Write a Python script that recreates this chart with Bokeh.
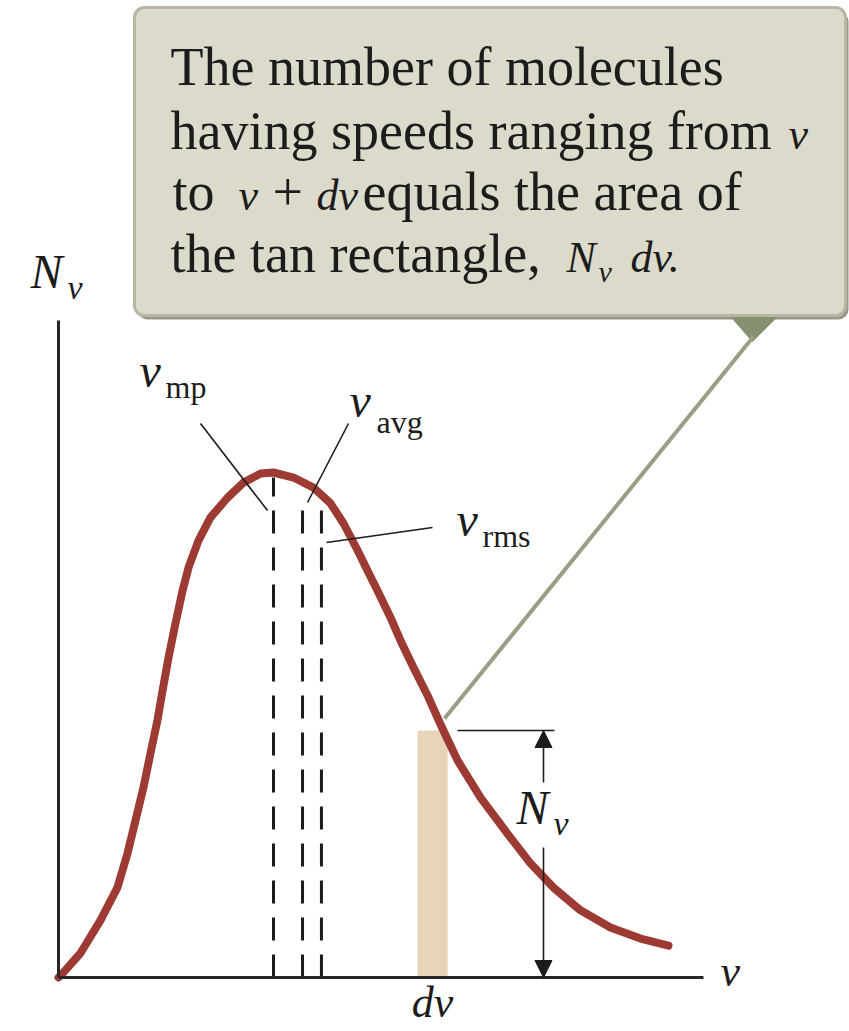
from bokeh.plotting import figure
from bokeh.models import Range1d, Arrow, NormalHead
from bokeh.core.properties import value
from bokeh.embed import file_html
from bokeh.resources import INLINE

# Maxwell speed distribution, speed in units of v_mp, N_v normalised to its peak
speeds = [0.000, 0.023, 0.102, 0.195, 0.274, 0.321, 0.358, 0.395, 0.428, 0.460,
          0.484, 0.512, 0.544, 0.577, 0.605, 0.651, 0.707, 0.786, 0.860, 0.940,
          1.000, 1.093, 1.186, 1.265, 1.326, 1.391, 1.437, 1.484, 1.544, 1.591,
          1.651, 1.716, 1.777, 1.856, 1.963, 2.088, 2.195, 2.302, 2.428, 2.567,
          2.707, 2.837]
counts = [0.000, 0.010, 0.048, 0.113, 0.178, 0.246, 0.311, 0.376, 0.444, 0.509,
          0.568, 0.634, 0.701, 0.766, 0.812, 0.865, 0.911, 0.950, 0.980, 0.998,
          1.000, 0.990, 0.970, 0.939, 0.899, 0.846, 0.806, 0.766, 0.713, 0.667,
          0.614, 0.559, 0.501, 0.430, 0.356, 0.285, 0.226, 0.178, 0.133, 0.099,
          0.077, 0.063]

# characteristic speeds
char_names = ["mp", "avg", "rms"]
char_speeds = [1.000, 1.135, 1.223]
char_tops = [0.990, 0.939, 0.933]

# the tan strip of width dv
dv_left = 1.670
dv_width = 0.140
dv_height = 0.489

# pixel geometry of the drawing
W, H = 849, 1031
OX, OY = 58, 977      # origin
SX, SY = 215, 505     # pixels per data unit
BASE_SHIFT = 0.37     # alphabetic baseline correction, fraction of font size


def dx(px):
    return (px - OX) / SX


def dy(py):
    return (OY - py) / SY


def by(py, fs):
    """data y for a text baseline at pixel row py with font size fs"""
    return dy(py - BASE_SHIFT * fs)


p = figure(width=W, height=H, output_backend="svg", toolbar_location=None,
           x_range=Range1d(dx(0), dx(W)), y_range=Range1d(dy(H), dy(0)),
           x_axis_location=None, y_axis_location=None, title=None,
           min_border=0, min_border_left=0, min_border_right=0,
           min_border_top=0, min_border_bottom=0,
           outline_line_color=None, background_fill_color="white",
           border_fill_color="white")
p.xgrid.visible = False
p.ygrid.visible = False

SERIF = value("Liberation Serif")
INK = "#1c1c1c"

# ---- callout box -------------------------------------------------------
p.quad(left=dx(137), right=dx(848), top=dy(11), bottom=dy(319),
       fill_color="#9a988a", line_color=None, border_radius=10)
p.quad(left=dx(134), right=dx(845), top=dy(7), bottom=dy(315),
       fill_color="#dcdbcb", line_color="#b9b7a3", line_width=3, border_radius=10)
p.patch(x=[dx(731), dx(776), dx(752)], y=[dy(317), dy(317), dy(341)],
        fill_color="#878f71", line_color="#878f71")
p.line(x=[dx(753), dx(444)], y=[dy(336), dy(718)], line_color="#97a084",
       line_width=4)

RFS, IFS = 54, 44
roman = dict(text_font=SERIF, text_color=INK, text_baseline="alphabetic",
             text_align="left", text_font_size=f"{RFS}px")
italic = dict(roman, text_font_style="italic", text_font_size=f"{IFS}px")

p.text(x=[dx(170), dx(170), dx(172), dx(362), dx(170)],
       y=[by(86, RFS), by(150, RFS), by(211, RFS), by(211, RFS), by(273, RFS)],
       text=["The number of molecules", "having speeds ranging from", "to",
             "equals the area of", "the tan rectangle,"], **roman)
p.text(x=[dx(272)], y=[by(211, RFS)], text=["+"], **roman)
p.text(x=[dx(788), dx(238), dx(316), dx(566), dx(630)],
       y=[by(150, IFS), by(211, IFS), by(211, IFS), by(273, IFS), by(273, IFS)],
       text=["v", "v", "dv", "N", "dv."], **italic)
p.text(x=[dx(598)], y=[by(282, 30)], text=["v"],
       **dict(italic, text_font_size="30px"))

# ---- tan strip and curve -------------------------------------------------
p.vbar(x=dv_left + dv_width / 2, width=dv_width, top=dv_height, bottom=0,
       fill_color="#e8d5b9", line_color=None)

for s, t in zip(char_speeds, char_tops):
    p.line(x=[s, s], y=[0, t], line_color=INK, line_width=3,
           line_dash="23 14")

p.line(x=speeds, y=counts, line_color="#9c3a33", line_width=8,
       line_cap="round", line_join="round")

# leader lines for the characteristic speeds
p.line(x=[dx(200), dx(267)], y=[dy(423), dy(510)], line_color=INK, line_width=1.6)
p.line(x=[dx(348), dx(307)], y=[dy(423), dy(502)], line_color=INK, line_width=1.6)
p.line(x=[dx(326), dx(432)], y=[dy(542), dy(527)], line_color=INK, line_width=1.6)

# ---- axes --------------------------------------------------------------
p.line(x=[0, 0], y=[0, dy(320)], line_color="#262626", line_width=3)
p.line(x=[0, dx(703)], y=[0, 0], line_color="#262626", line_width=3)

# ---- N_v dimension -------------------------------------------------------
p.line(x=[dx(457), dx(554)], y=[dv_height, dv_height], line_color=INK,
       line_width=1.5)
head = dict(size=17, fill_color=INK, line_color=INK)
p.add_layout(Arrow(end=NormalHead(**head), x_start=dx(543), y_start=dy(782),
                   x_end=dx(543), y_end=dv_height, line_color=INK, line_width=1.6))
p.add_layout(Arrow(end=NormalHead(**head), x_start=dx(543), y_start=dy(847),
                   x_end=dx(543), y_end=0, line_color=INK, line_width=1.6))

# ---- labels ------------------------------------------------------------
BIG, SUB, SUBI = 48, 32, 34
big_it = dict(italic, text_font_size=f"{BIG}px")
sub = dict(roman, text_font_size=f"{SUB}px")
sub_it = dict(italic, text_font_size=f"{SUBI}px")

p.text(x=[dx(30), dx(139), dx(349), dx(456), dx(516)],
       y=[by(289, BIG), by(388, BIG), by(418, BIG), by(537, BIG), by(825, BIG)],
       text=["N", "v", "v", "v", "N"], **big_it)
p.text(x=[dx(67), dx(553)], y=[by(300, SUBI), by(836, SUBI)], text=["v", "v"],
       **sub_it)
p.text(x=[dx(165), dx(376), dx(482)],
       y=[by(398, SUB), by(433, SUB), by(547, SUB)],
       text=["mp", "avg", "rms"], **sub)
p.text(x=[dv_left + dv_width / 2], y=[by(1018, 44)], text=["dv"],
       **dict(big_it, text_align="center", text_font_size="44px"))
p.text(x=[dx(720)], y=[by(987, 44)], text=["v"],
       **dict(big_it, text_font_size="44px"))

open("out.html", "w").write(file_html(p, INLINE))
